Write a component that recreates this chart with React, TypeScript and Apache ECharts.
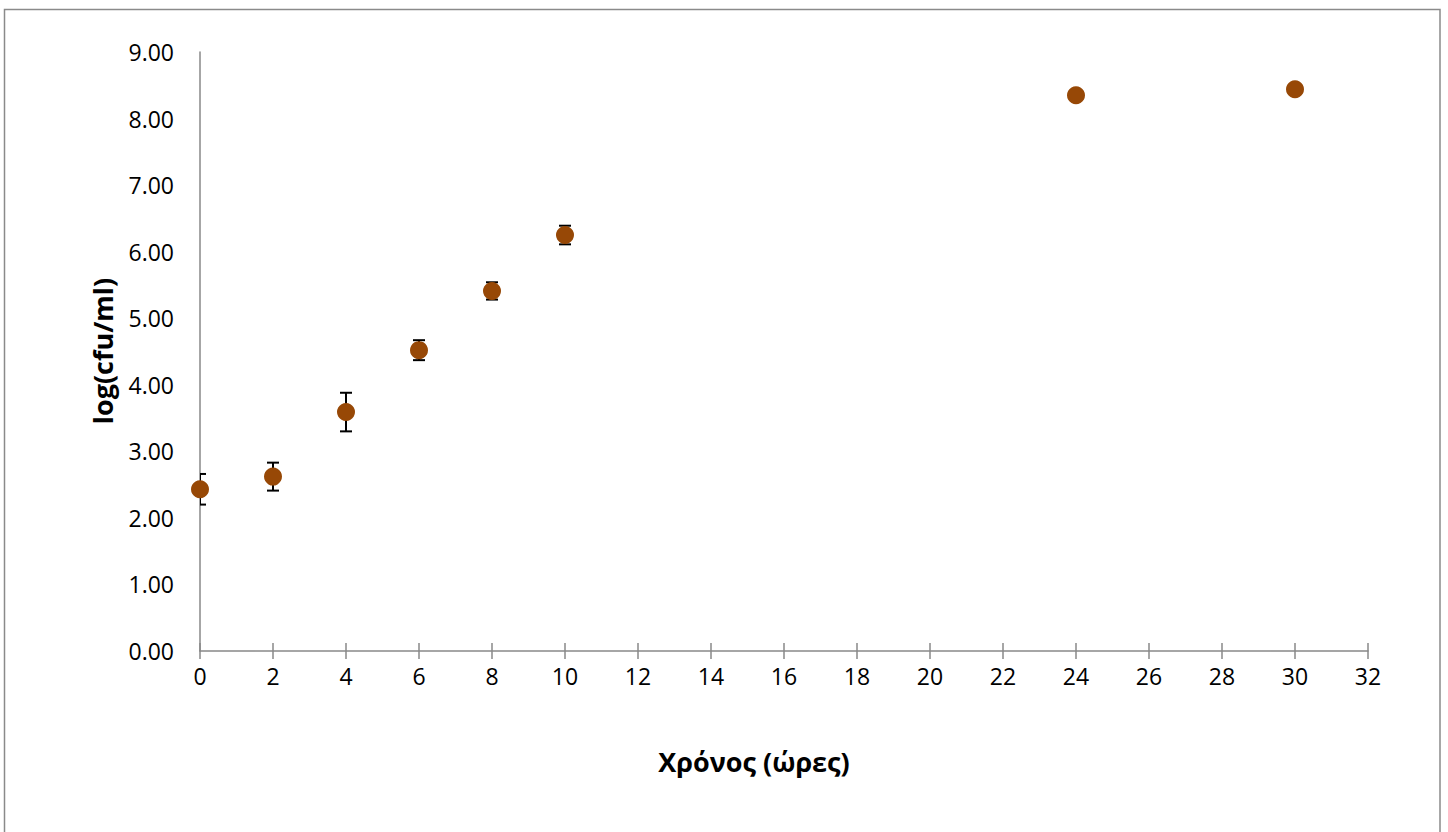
import React, { useEffect, useRef } from "react";
import * as echarts from "echarts";

const hours = [0, 2, 4, 6, 8, 10, 24, 30];
const logCfu = [2.43, 2.62, 3.59, 4.52, 5.41, 6.25, 8.35, 8.44];
const errors = [0.23, 0.21, 0.29, 0.15, 0.13, 0.14, 0.05, 0.05];

const xTitle = "Χρόνος (ώρες)";
const yTitle = "log(cfu/ml)";

const FONT = "'Open Sans', 'Noto Sans', sans-serif";

export default function App() {
  const ref = useRef<HTMLDivElement>(null);
  useEffect(() => {
    if (!ref.current) return;
    const chart = echarts.init(ref.current, null, { renderer: "svg" });
    const scatterData = hours.map((h, i) => [h, logCfu[i]]);
    const errData = hours.map((h, i) => [h, logCfu[i] - errors[i], logCfu[i] + errors[i]]);
    const axisGrey = "#888888";
    chart.setOption({
      animation: false,
      backgroundColor: "#ffffff",
      textStyle: { fontFamily: FONT },
      grid: { left: 200, right: 80, top: 52, bottom: 181, containLabel: false },
      graphic: [
        {
          type: "rect",
          shape: { x: 4.5, y: 9.5, width: 1435.5, height: 830 },
          style: { fill: "none", stroke: "#8a8a8a", lineWidth: 1.5 },
          silent: true,
        },
        {
          type: "text",
          x: 754,
          y: 761,
          style: {
            text: xTitle,
            fontFamily: FONT,
            fontSize: 27,
            fontWeight: "bold",
            fill: "#000",
            align: "center",
            verticalAlign: "middle",
          },
        },
        {
          type: "text",
          x: 102,
          y: 351,
          rotation: Math.PI / 2,
          style: {
            text: yTitle,
            fontFamily: FONT,
            fontSize: 27,
            fontWeight: "bold",
            fill: "#000",
            align: "center",
            verticalAlign: "middle",
          },
        },
      ],
      xAxis: [
        {
          type: "value",
          min: 0,
          max: 32,
          interval: 2,
          axisLine: { show: true, lineStyle: { color: axisGrey, width: 1.5 } },
          axisTick: { show: true, inside: false, length: 8, lineStyle: { color: axisGrey, width: 1.5 } },
          axisLabel: { color: "#000", fontSize: 23, margin: 13, fontFamily: FONT },
          splitLine: { show: false },
        },
        {
          type: "value",
          min: 0,
          max: 32,
          interval: 2,
          position: "bottom",
          axisLine: { show: false },
          axisTick: { show: true, inside: true, length: 8, lineStyle: { color: axisGrey, width: 1.5 } },
          axisLabel: { show: false },
          splitLine: { show: false },
        },
      ],
      yAxis: {
        type: "value",
        min: 0,
        max: 9,
        interval: 1,
        axisLine: { show: true, lineStyle: { color: axisGrey, width: 1.5 } },
        axisTick: { show: false },
        axisLabel: {
          color: "#000",
          fontSize: 23,
          margin: 26,
          fontFamily: FONT,
          formatter: (v: number) => v.toFixed(2),
        },
        splitLine: { show: false },
      },
      series: [
        {
          type: "custom",
          xAxisIndex: 0,
          clip: true,
          data: errData,
          z: 3,
          renderItem: (params: any, api: any) => {
            const x = api.value(0);
            const lo = api.coord([x, api.value(1)]);
            const hi = api.coord([x, api.value(2)]);
            const hw = 6;
            const style = { stroke: "#000", lineWidth: 2 };
            return {
              type: "group",
              children: [
                { type: "line", shape: { x1: lo[0], y1: lo[1], x2: hi[0], y2: hi[1] }, style },
                { type: "line", shape: { x1: lo[0] - hw, y1: lo[1], x2: lo[0] + hw, y2: lo[1] }, style },
                { type: "line", shape: { x1: hi[0] - hw, y1: hi[1], x2: hi[0] + hw, y2: hi[1] }, style },
              ],
            };
          },
        },
        {
          type: "scatter",
          xAxisIndex: 0,
          data: scatterData,
          symbol: "circle",
          symbolSize: 18,
          itemStyle: { color: "#974806", opacity: 1 },
          z: 4,
        },
      ],
    });
    return () => chart.dispose();
  }, []);
  return (
    <div
      ref={ref}
      style={{ position: "fixed", left: 0, top: 0, width: 1448, height: 832, background: "#fff" }}
    />
  );
}
